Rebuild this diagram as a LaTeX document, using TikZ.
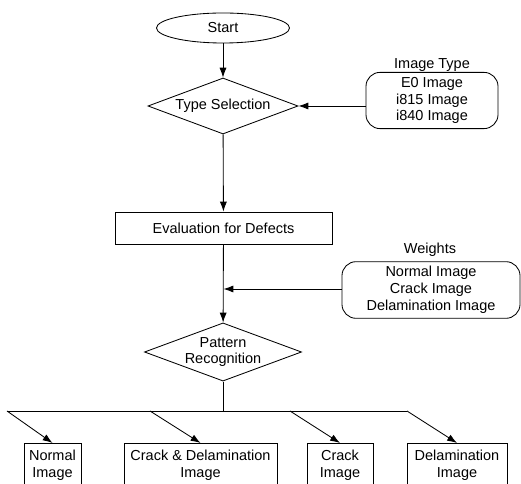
\documentclass[tikz,border=0pt]{standalone}
\usepackage{fontspec}
\setmainfont{Liberation Sans}
\usetikzlibrary{shapes.geometric, arrows.meta, positioning, calc}

\begin{document}
\begin{tikzpicture}[x=0.025cm, y=-0.025cm, line width=0.6pt,
  >={Latex[length=7pt, width=5pt]},
  font=\fontsize{10.3}{12}\selectfont,
  box/.style={draw, rectangle, align=center, inner sep=2pt},
  decision/.style={draw, diamond, aspect=2.7, align=center, inner sep=0pt,
    minimum width=3.75cm, minimum height=1.4cm},
  listbox/.style={draw, rectangle, rounded corners=10pt, align=center}]
\useasboundingbox (0,0) rectangle (521,484);
\clip (0,0) rectangle (521,484);

% Main flow
\node[draw, ellipse, minimum width=3.325cm, minimum height=0.75cm, inner sep=0pt] (start) at (223,28) {Start};
\node[decision] (typesel) at (223,106) {Type Selection};
\node[box, minimum width=5.425cm, minimum height=0.8cm] (eval) at (223.5,228) {Evaluation for Defects};
\node[decision] (pattern) at (223,352) {Pattern\\Recognition};

% Inputs
\node[listbox, minimum width=3.3cm, minimum height=1.375cm] (imgtype) at (432,100.5) {E0 Image\\i815 Image\\i840 Image};
\node (typelbl) at (432,65) {Image Type};
\node[listbox, minimum width=4.45cm, minimum height=1.4cm] (weights) at (431,290) {Normal Image\\Crack Image\\Delamination Image};
\node (weightlbl) at (430,250) {Weights};

% Results
\node[box, anchor=north, minimum width=1.425cm, minimum height=1.1cm] (normal) at (52.5,443) {Normal\\Image};
\node[box, anchor=north, minimum width=3.825cm, minimum height=1.1cm] (crackdel) at (200.5,443) {Crack \& Delamination\\Image};
\node[box, anchor=north, minimum width=1.65cm, minimum height=1.1cm] (crack) at (340,443) {Crack\\Image};
\node[box, anchor=north, minimum width=2.5cm, minimum height=1.1cm] (delam) at (457,443) {Delamination\\Image};

% Connectors
\coordinate (merge) at (223.5,289);
\coordinate (split) at (223,411);
\coordinate (b1) at (7,411);
\coordinate (b2) at (150,411);
\coordinate (b3) at (290,411);
\coordinate (b4) at (407,411);

\draw[->] (start) -- (typesel);
\draw[->] (imgtype.west |- typesel) -- (typesel.east);
\draw[->] (typesel) -- (eval);
\draw[->] (eval) -- (pattern);
\draw[->] (weights.west |- merge) -- (merge);
\draw (pattern.south) -- (split);
\draw (b1) -- (b4);
\draw[->] (b1) -- (normal.north);
\draw[->] (b2) -- (crackdel.north);
\draw[->] (b3) -- (crack.north);
\draw[->] (b4) -- (delam.north);
\end{tikzpicture}
\end{document}
